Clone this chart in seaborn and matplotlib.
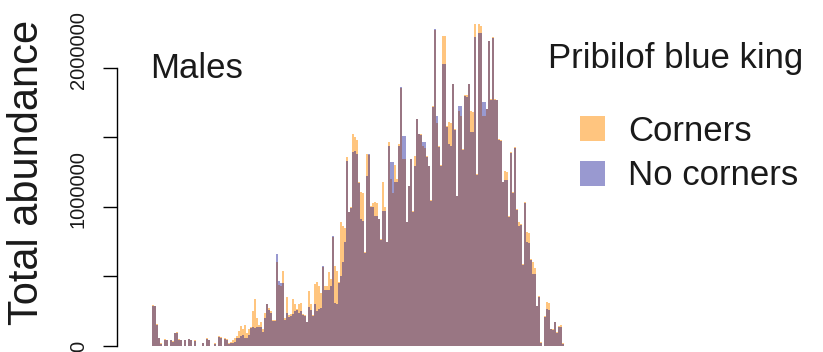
import numpy as np
import pandas as pd
import matplotlib
matplotlib.use("Agg")
import matplotlib.pyplot as plt
import matplotlib.transforms as mtransforms
import seaborn as sns

# Total abundance per 1-unit length bin (thousands of crab), males
corners_thousands = [
    0, 295, 290, 155, 60, 20, 0, 50, 45, 0,
    40, 35, 95, 100, 50, 45, 0, 45, 0, 50,
    45, 0, 40, 0, 0, 0, 25, 0, 55, 45,
    0, 0, 20, 0, 70, 65, 0, 55, 50, 20,
    30, 40, 60, 70, 110, 145, 120, 150, 90, 120,
    140, 250, 338, 200, 150, 170, 120, 240, 302, 270,
    250, 190, 190, 600, 440, 430, 540, 200, 352, 220,
    230, 338, 300, 266, 300, 310, 230, 220, 175, 396,
    300, 220, 446, 460, 432, 380, 570, 430, 432, 532,
    480, 780, 575, 540, 460, 892, 863, 850, 1360, 964,
    1000, 1525, 1500, 1480, 1180, 1108, 1100, 676, 1381, 1375,
    1007, 1030, 1036, 1030, 914, 770, 1180, 1000, 748, 1467,
    1200, 1100, 1300, 1200, 1453, 1850, 1345, 1340, 892, 1151,
    1345, 971, 1367, 1633, 1525, 1520, 1440, 1420, 1367, 1295,
    1050, 1727, 2270, 1600, 1439, 1300, 2230, 2230, 1583, 1611,
    1600, 1885, 1561, 1080, 1690, 1655, 1417, 1800, 1800, 1885,
    1690, 1680, 2316, 1237, 2316, 2300, 1655, 1650, 1705, 2194,
    1777, 2223, 1777, 1770, 1489, 1480, 1180, 1259, 1250, 935,
    1395, 1108, 1432, 985, 892, 878, 590, 1036, 820, 810,
    626, 600, 560, 288, 360, 30, 0, 216, 316, 310,
    122, 122, 173, 100, 144, 150, 20, 0,
]

no_corners_thousands = [
    0, 290, 285, 150, 55, 15, 0, 45, 40, 0,
    40, 30, 90, 95, 45, 40, 0, 40, 0, 50,
    40, 0, 35, 0, 0, 0, 20, 0, 50, 40,
    0, 0, 15, 0, 65, 60, 0, 50, 45, 15,
    20, 25, 30, 55, 60, 70, 80, 60, 55, 80,
    130, 140, 130, 140, 135, 140, 100, 200, 300, 260,
    240, 180, 180, 662, 470, 455, 450, 190, 240, 210,
    215, 230, 250, 260, 240, 250, 220, 215, 170, 280,
    260, 215, 300, 250, 266, 270, 575, 400, 400, 400,
    430, 791, 310, 300, 455, 500, 600, 750, 1330, 960,
    990, 1395, 1400, 1380, 1170, 914, 900, 670, 1220, 1381,
    1000, 1000, 935, 935, 910, 765, 971, 970, 745, 1440,
    1324, 1324, 1180, 1180, 1440, 1863, 1511, 1511, 890, 1150,
    1340, 965, 1290, 1630, 1520, 1515, 1467, 1467, 1360, 1290,
    1045, 1720, 2280, 1655, 1430, 1290, 2029, 2029, 1575, 1450,
    1440, 1880, 1555, 1075, 1727, 1727, 1410, 1795, 1790, 1880,
    1540, 1540, 2223, 1230, 2245, 2245, 1755, 1755, 1700, 2190,
    1770, 2215, 1770, 1765, 1480, 1475, 1175, 1190, 1190, 930,
    1390, 1100, 1425, 980, 860, 870, 580, 1030, 748, 740,
    620, 518, 518, 285, 355, 25, 0, 210, 266, 260,
    120, 118, 170, 95, 140, 140, 15, 0,
]

series_labels = ["Corners", "No corners"]
series_colors = ["darkorange", "darkblue"]
series_alpha = [0.5, 0.4]
y_ticks = [0, 500000, 1000000, 1500000, 2000000]
y_tick_labels = ["0", "", "1000000", "", "2000000"]

length_bin = np.arange(len(corners_thousands))
df = pd.DataFrame({
    "length_bin": np.concatenate([length_bin, length_bin]),
    "abundance": np.array(corners_thousands + no_corners_thousands) * 1000.0,
    "method": [series_labels[0]] * len(length_bin) + [series_labels[1]] * len(length_bin),
})

sns.set_theme(style="ticks")
plt.rcParams["font.family"] = ["Liberation Sans", "DejaVu Sans"]

W, H = 823, 352
fig = plt.figure(figsize=(W / 100, H / 100), dpi=100)
fig.patch.set_facecolor("white")

ax_left, ax_right, y_zero, y_top = 117, 600, 346, 0
ax = fig.add_axes([ax_left / W, (H - y_zero) / H, (ax_right - ax_left) / W, (y_zero - y_top) / H])
ax.set_facecolor("none")

for label, color, alpha in zip(series_labels, series_colors, series_alpha):
    sub = df[df["method"] == label]
    sns.histplot(data=sub, x="length_bin", weights="abundance", discrete=True,
                 shrink=1.0, color=color, alpha=alpha, linewidth=0,
                 edgecolor="none", label=label, ax=ax)

px_per_bin = 2.0
x0 = -0.5 - (150 - ax_left) / px_per_bin
x1 = -0.5 + (ax_right - 150) / px_per_bin
ax.set_xlim(x0, x1)
units_per_px = 500000 / 69.6
ax.set_ylim(0, (y_zero - y_top) * units_per_px)

for s in ["top", "right", "bottom"]:
    ax.spines[s].set_visible(False)
ax.spines["left"].set_bounds(0, 2000000)
ax.spines["left"].set_color("black")
ax.spines["left"].set_linewidth(1.0)
ax.set_xticks([])
ax.set_xlabel("")
ax.set_yticks(y_ticks)
ax.set_yticklabels(y_tick_labels, rotation=90, va="center")
ax.tick_params(axis="y", direction="out", length=10, width=1.0, color="black",
               pad=11, labelsize=14.5, labelcolor="#1a1a1a")

# long labels sit a little above their tick marks
lift = mtransforms.ScaledTranslation(0, 18 / 100, fig.dpi_scale_trans)
for tick in ax.yaxis.get_major_ticks():
    if len(tick.label1.get_text()) > 1:
        tick.label1.set_transform(tick.label1.get_transform() + lift)

ax.set_ylabel("Total abundance", fontsize=30, color="#1a1a1a")
ax.yaxis.label.set_va("center")
ax.yaxis.set_label_coords((27 - ax_left) / (ax_right - ax_left), (y_zero - 172) / (y_zero - y_top))

fig.text(150 / W, 1 - 78 / H, "Males", fontsize=25, color="#1a1a1a", ha="left", va="baseline")
fig.text(548 / W, 1 - 68 / H, "Pribilof blue king", fontsize=25, color="#1a1a1a", ha="left", va="baseline")

leg = ax.legend(loc="upper left", bbox_to_anchor=(580 / W, 1 - 115 / H),
                bbox_transform=fig.transFigure, frameon=False, fontsize=25,
                handlelength=0.72, handleheight=0.72, handletextpad=0.66,
                labelspacing=0.33, borderpad=0, borderaxespad=0)
for t in leg.get_texts():
    t.set_color("#1a1a1a")

fig.savefig("out.png", dpi=100, facecolor="white")
